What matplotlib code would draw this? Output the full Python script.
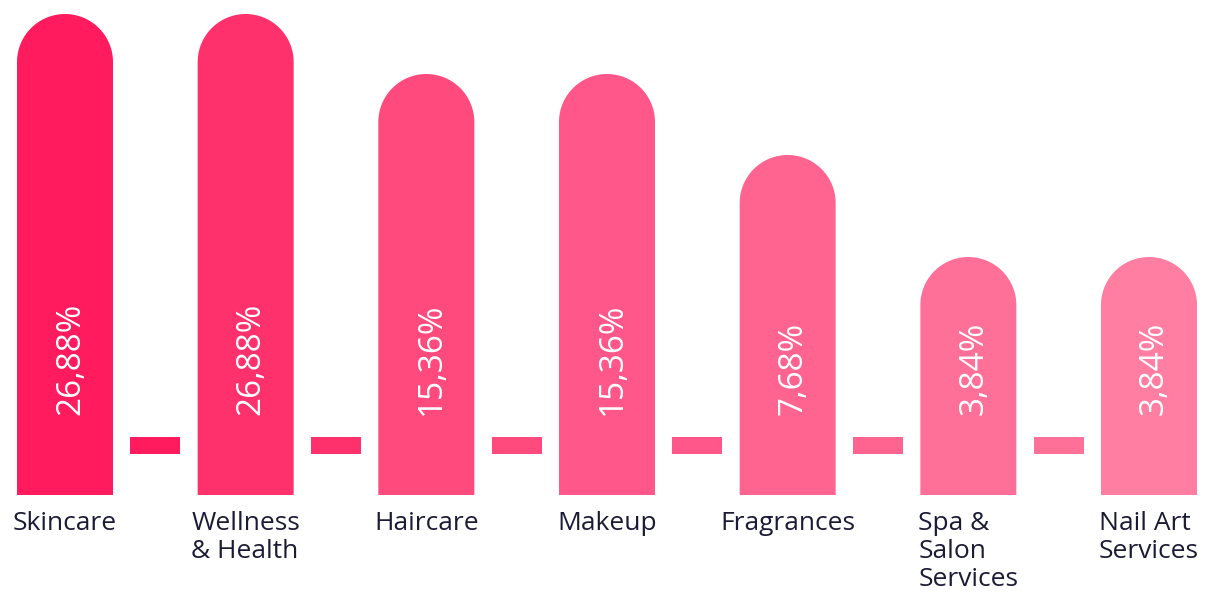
import matplotlib
matplotlib.use('Agg')
import numpy as np
import matplotlib.pyplot as plt
from matplotlib.patches import Polygon, Rectangle

# categories and values
categories = ['Skincare', 'Wellness\n& Health', 'Haircare', 'Makeup',
              'Fragrances', 'Spa &\nSalon\nServices', 'Nail Art\nServices']
share_labels = ['26,88%', '26,88%', '15,36%', '15,36%', '7,68%', '3,84%', '3,84%']
bar_heights = [481, 481, 421, 421, 340, 238, 238]   # drawn height, px-like units
colors = ['#FF1B5E', '#FF316D', '#FF4A7E', '#FF5789',
          '#FF6491', '#FF7099', '#FF7EA2']

step_px = 180.67          # distance between bar centres in pixels
bar_w = 96 / step_px      # bar width in category units
radius = 48               # cap radius in y units (= px)
link_w = 50 / step_px

fig = plt.figure(figsize=(12.05, 5.98), dpi=100)
ax = fig.add_axes([0, 0, 1, 1])
ax.set_xlim(-65 / step_px, 6 + 56 / step_px)
ax.set_ylim(-103, 495)
ax.axis('off')

xs = list(range(len(categories)))

# little connectors between the bars
for i in xs[:-1]:
    ax.add_patch(Rectangle((i + 0.5 - link_w / 2, 41), link_w, 17,
                           color=colors[i], lw=0))

theta = np.linspace(0, np.pi, 60)
for i, (h, c) in enumerate(zip(bar_heights, colors)):
    # bar with a round cap, drawn as one shape
    arc_x = i + bar_w / 2 * np.cos(theta)
    arc_y = h - radius + radius * np.sin(theta)
    pts = [(i + bar_w / 2, 0)] + list(zip(arc_x, arc_y)) + [(i - bar_w / 2, 0)]
    ax.add_patch(Polygon(pts, closed=True, color=c, lw=0))

    ax.annotate(share_labels[i], (i, 80), xytext=(4, 0), textcoords='offset points',
                rotation=90, ha='center', va='bottom', color='white',
                fontsize=24, fontfamily='Open Sans')

    ax.text(i, -16, categories[i], ha='center', va='top', multialignment='left',
            fontsize=19, fontfamily='Open Sans', color='#1c1b36', linespacing=1.17)

fig.savefig('out.png', dpi=100)
